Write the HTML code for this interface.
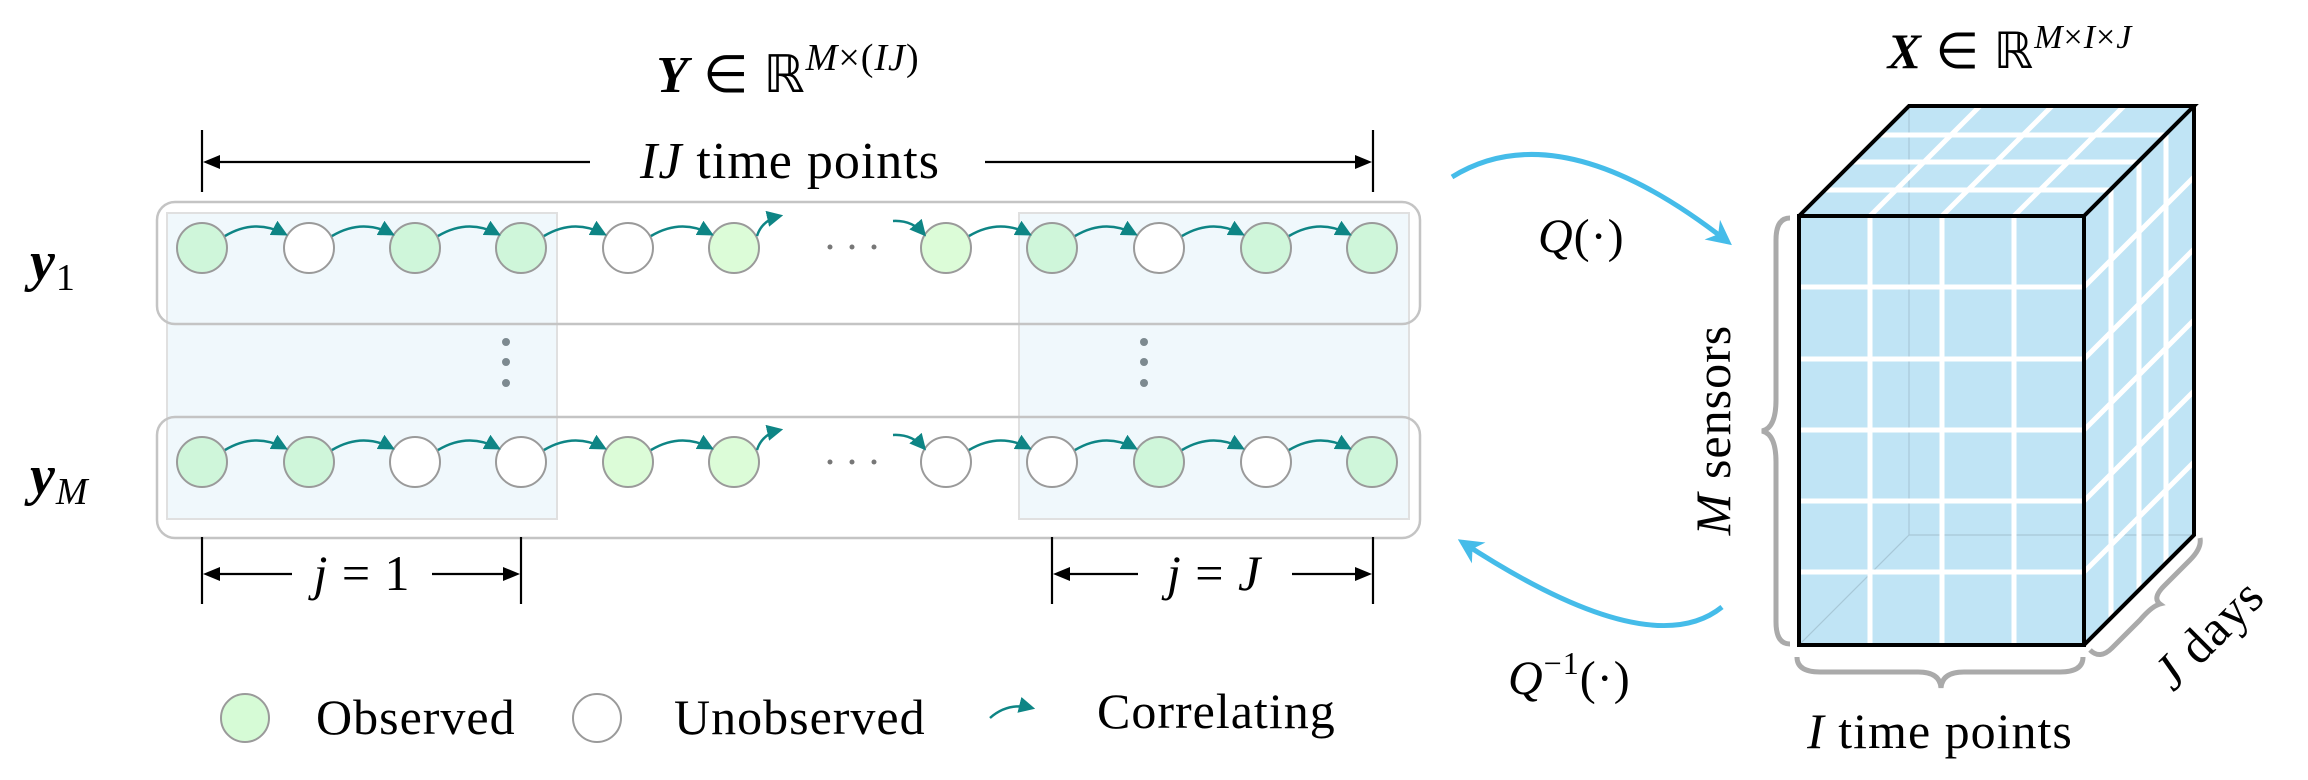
<!DOCTYPE html>
<html><head><meta charset="utf-8"><style>
html,body{margin:0;padding:0;background:#fff;}
svg{display:block;}
text{font-family:"Liberation Serif",serif;fill:#000;letter-spacing:1px;}
</style></head><body>
<svg width="2308" height="780" viewBox="0 0 2308 780" xmlns="http://www.w3.org/2000/svg">
<defs>
<marker id="ta" viewBox="0 0 10 10" refX="8" refY="5" markerWidth="6.5" markerHeight="6.5" orient="auto" markerUnits="strokeWidth"><path d="M0,0 L10,5 L0,10 z" fill="#0e8585"/></marker>
<marker id="ba" viewBox="0 0 10 10" refX="8" refY="5" markerWidth="5" markerHeight="5" orient="auto" markerUnits="strokeWidth"><path d="M0,0 L10,5 L0,10 L3,5 z" fill="#45bce9"/></marker>
</defs>

<!-- title -->
<text x="788" y="92" font-size="52" text-anchor="middle"><tspan font-weight="bold" font-style="italic">Y</tspan> ∈ ℝ<tspan font-size="38" dy="-22" font-style="italic">M</tspan><tspan font-size="38">×(</tspan><tspan font-size="38" font-style="italic">IJ</tspan><tspan font-size="38">)</tspan></text>

<!-- IJ time points -->
<g stroke="#000" stroke-width="2.2">
<line x1="202" y1="130" x2="202" y2="192"/><line x1="1373" y1="130" x2="1373" y2="192"/>
<line x1="212" y1="162" x2="590" y2="162"/>
<line x1="985" y1="162" x2="1363" y2="162"/>
</g>
<path d="M203,162 L220,155 L220,169 z" fill="#000"/>
<path d="M1372,162 L1355,155 L1355,169 z" fill="#000"/>
<text x="790" y="178" font-size="52" text-anchor="middle"><tspan font-style="italic">IJ</tspan> time points</text>

<!-- shaded j blocks -->
<rect x="167" y="213" width="390" height="306" fill="#f0f8fc" stroke="#e0e0e0" stroke-width="2"/>
<rect x="1019" y="213" width="390" height="306" fill="#f0f8fc" stroke="#e0e0e0" stroke-width="2"/>
<rect x="157" y="202" width="1263" height="122" rx="18" fill="none" stroke="#c4c4c4" stroke-width="2.5"/>
<rect x="157" y="417" width="1263" height="121" rx="18" fill="none" stroke="#c4c4c4" stroke-width="2.5"/>

<g fill="#7d8a90">
<circle cx="506" cy="342" r="4"/><circle cx="506" cy="362" r="4"/><circle cx="506" cy="383" r="4"/>
<circle cx="1144" cy="342" r="4"/><circle cx="1144" cy="362" r="4"/><circle cx="1144" cy="383" r="4"/>
</g>
<g fill="#777">
<circle cx="830" cy="247" r="2.5"/><circle cx="852" cy="247" r="2.5"/><circle cx="874" cy="247" r="2.5"/>
<circle cx="830" cy="462" r="2.5"/><circle cx="852" cy="462" r="2.5"/><circle cx="874" cy="462" r="2.5"/>
</g>

<g stroke="#9a9a9a" stroke-width="2">
<circle cx="202" cy="248" r="25" fill="#cff6da"/>
<circle cx="309" cy="248" r="25" fill="#fff"/>
<circle cx="415" cy="248" r="25" fill="#cff6da"/>
<circle cx="521" cy="248" r="25" fill="#cff6da"/>
<circle cx="628" cy="248" r="25" fill="#fff"/>
<circle cx="734" cy="248" r="25" fill="#dcfcd8"/>
<circle cx="946" cy="248" r="25" fill="#dcfcd8"/>
<circle cx="1052" cy="248" r="25" fill="#cff6da"/>
<circle cx="1159" cy="248" r="25" fill="#fff"/>
<circle cx="1266" cy="248" r="25" fill="#cff6da"/>
<circle cx="1372" cy="248" r="25" fill="#cff6da"/>
</g>
<g stroke="#9a9a9a" stroke-width="2">
<circle cx="202" cy="462" r="25" fill="#cff6da"/>
<circle cx="309" cy="462" r="25" fill="#cff6da"/>
<circle cx="415" cy="462" r="25" fill="#fff"/>
<circle cx="521" cy="462" r="25" fill="#fff"/>
<circle cx="628" cy="462" r="25" fill="#dcfcd8"/>
<circle cx="734" cy="462" r="25" fill="#dcfcd8"/>
<circle cx="946" cy="462" r="25" fill="#fff"/>
<circle cx="1052" cy="462" r="25" fill="#fff"/>
<circle cx="1159" cy="462" r="25" fill="#cff6da"/>
<circle cx="1266" cy="462" r="25" fill="#fff"/>
<circle cx="1372" cy="462" r="25" fill="#cff6da"/>
</g>

<g fill="none" stroke="#0e8585" stroke-width="2.5" marker-end="url(#ta)">
<path d="M225,236 Q255,218 285,234"/>
<path d="M332,236 Q362,218 392,234"/>
<path d="M438,236 Q468,218 498,234"/>
<path d="M544,236 Q574,218 604,234"/>
<path d="M651,236 Q681,218 711,234"/>
<path d="M757,236 Q762,220 780,216"/>
<path d="M893,221 Q912,220 924,234"/>
<path d="M969,236 Q999,218 1029,234"/>
<path d="M1075,236 Q1105,218 1135,234"/>
<path d="M1182,236 Q1212,218 1242,234"/>
<path d="M1289,236 Q1319,218 1349,234"/>
<path d="M225,450 Q255,432 285,448"/>
<path d="M332,450 Q362,432 392,448"/>
<path d="M438,450 Q468,432 498,448"/>
<path d="M544,450 Q574,432 604,448"/>
<path d="M651,450 Q681,432 711,448"/>
<path d="M757,450 Q762,434 780,430"/>
<path d="M893,435 Q912,434 924,448"/>
<path d="M969,450 Q999,432 1029,448"/>
<path d="M1075,450 Q1105,432 1135,448"/>
<path d="M1182,450 Q1212,432 1242,448"/>
<path d="M1289,450 Q1319,432 1349,448"/>
</g>

<text x="30" y="280" font-size="56" font-weight="bold" font-style="italic">y<tspan font-size="38" font-weight="normal" font-style="normal" dy="10">1</tspan></text>
<text x="30" y="494" font-size="56" font-weight="bold" font-style="italic">y<tspan font-size="38" font-weight="normal" dy="10">M</tspan></text>

<g stroke="#000" stroke-width="2.2">
<line x1="202" y1="537" x2="202" y2="604"/><line x1="521" y1="537" x2="521" y2="604"/>
<line x1="210" y1="574" x2="292" y2="574"/><line x1="432" y1="574" x2="512" y2="574"/>
<line x1="1052" y1="537" x2="1052" y2="604"/><line x1="1373" y1="537" x2="1373" y2="604"/>
<line x1="1060" y1="574" x2="1138" y2="574"/><line x1="1292" y1="574" x2="1365" y2="574"/>
</g>
<g fill="#000">
<path d="M203,574 L220,567 L220,581 z"/><path d="M520,574 L503,567 L503,581 z"/>
<path d="M1053,574 L1070,567 L1070,581 z"/><path d="M1372,574 L1355,567 L1355,581 z"/>
</g>
<text x="362" y="590" font-size="50" text-anchor="middle"><tspan font-style="italic">j</tspan> = 1</text>
<text x="1214" y="590" font-size="50" text-anchor="middle"><tspan font-style="italic">j</tspan> = <tspan font-style="italic">J</tspan></text>

<circle cx="245" cy="718" r="24" fill="#d6fbd6" stroke="#9a9a9a" stroke-width="2"/>
<text x="316" y="734" font-size="50">Observed</text>
<circle cx="597" cy="718" r="24" fill="#fff" stroke="#9a9a9a" stroke-width="2"/>
<text x="674" y="734" font-size="50">Unobserved</text>
<path d="M990,718 Q1008,702 1032,708" fill="none" stroke="#0e8585" stroke-width="2.5" marker-end="url(#ta)"/>
<text x="1097" y="728" font-size="50">Correlating</text>

<path d="M1452,177 Q1560,110 1728,242" fill="none" stroke="#45bce9" stroke-width="5" marker-end="url(#ba)"/>
<path d="M1722,607 Q1650,665 1462,542" fill="none" stroke="#45bce9" stroke-width="5" marker-end="url(#ba)"/>
<text x="1538" y="252" font-size="48" font-style="italic">Q<tspan font-style="normal">(·)</tspan></text>
<text x="1508" y="694" font-size="48" font-style="italic">Q<tspan font-size="32" font-style="normal" dy="-20">−1</tspan><tspan font-style="normal" dy="20">(·)</tspan></text>

<text x="2010" y="68" font-size="50" text-anchor="middle"><tspan font-weight="bold" font-style="italic">X</tspan> ∈ ℝ<tspan font-size="34" dy="-20" font-style="italic">M</tspan><tspan font-size="34">×</tspan><tspan font-size="34" font-style="italic">I</tspan><tspan font-size="34">×</tspan><tspan font-size="34" font-style="italic">J</tspan></text>
<polygon points="1799,216 1909,106 2194,106 2084,216" fill="#c0e4f5"/>
<polygon points="2084,216 2194,106 2194,535 2084,645" fill="#c0e4f5"/>
<rect x="1799" y="216" width="285" height="429" fill="#c0e4f5"/>
<g stroke="#a8c8d8" stroke-width="1.2">
<line x1="1909" y1="106" x2="1909" y2="535"/><line x1="1909" y1="535" x2="2194" y2="535"/><line x1="1799" y1="645" x2="1909" y2="535"/>
</g>
<g stroke="#fff" stroke-width="5">
<line x1="1870" y1="218" x2="1870" y2="643"/><line x1="1942" y1="218" x2="1942" y2="643"/><line x1="2014" y1="218" x2="2014" y2="643"/>
<line x1="1801" y1="287" x2="2082" y2="287"/><line x1="1801" y1="359" x2="2082" y2="359"/><line x1="1801" y1="430" x2="2082" y2="430"/><line x1="1801" y1="501" x2="2082" y2="501"/><line x1="1801" y1="572" x2="2082" y2="572"/>
<line x1="1826" y1="190" x2="2111" y2="190"/><line x1="1854" y1="162" x2="2139" y2="162"/><line x1="1881" y1="135" x2="2166" y2="135"/>
<line x1="1870" y1="216" x2="1980" y2="106"/><line x1="1942" y1="216" x2="2052" y2="106"/><line x1="2014" y1="216" x2="2124" y2="106"/>
<line x1="2111" y1="190" x2="2111" y2="618"/><line x1="2139" y1="162" x2="2139" y2="590"/><line x1="2166" y1="135" x2="2166" y2="563"/>
<line x1="2084" y1="287" x2="2194" y2="177"/><line x1="2084" y1="359" x2="2194" y2="249"/><line x1="2084" y1="430" x2="2194" y2="320"/><line x1="2084" y1="501" x2="2194" y2="391"/><line x1="2084" y1="572" x2="2194" y2="462"/>
</g>
<g fill="none" stroke="#000" stroke-width="4">
<rect x="1799" y="216" width="285" height="429"/>
<polyline points="1799,216 1909,106 2194,106 2084,216"/>
<polyline points="2194,106 2194,535 2084,645"/>
</g>
<g fill="none" stroke="#aaa" stroke-width="5">
<path d="M1790,218 Q1776,218 1776,240 L1776,400 Q1776,428 1762,431 Q1776,434 1776,462 L1776,622 Q1776,644 1790,644"/>
<path d="M1797,657 Q1797,672 1820,672 L1918,672 Q1940,672 1941,688 Q1942,672 1964,672 L2060,672 Q2083,672 2083,657"/>
<path d="M2090,650 Q2100,660 2112,648 L2140,620 Q2152,606 2160,604 Q2152,598 2164,586 L2190,560 Q2202,548 2200,538"/>
</g>
<text transform="translate(1730,430) rotate(-90)" font-size="50" text-anchor="middle"><tspan font-style="italic">M</tspan> sensors</text>
<text x="1940" y="748" font-size="50" text-anchor="middle"><tspan font-style="italic">I</tspan> time points</text>
<text transform="translate(2220,646) rotate(-45)" font-size="50" text-anchor="middle"><tspan font-style="italic">J</tspan> days</text>
</svg>
</body></html>
